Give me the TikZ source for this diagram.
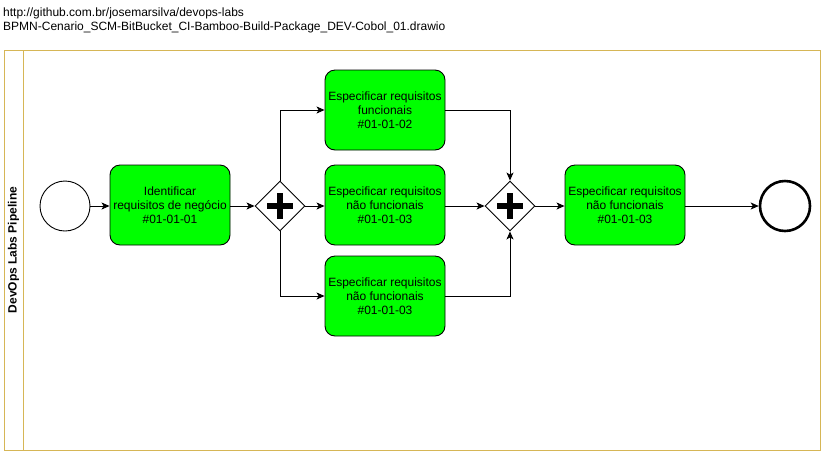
\documentclass[tikz,border=0pt]{standalone}
\usepackage{fontspec}
\setmainfont{Liberation Sans}
\usetikzlibrary{arrows.meta,shapes.geometric}
\definecolor{lanegold}{HTML}{D6B656}
\definecolor{taskgreen}{HTML}{00FF00}
\begin{document}
\begin{tikzpicture}[x=1pt,y=-1pt,
  every node/.style={font=\fontsize{12}{14}\selectfont},
  task/.style={draw=black,fill=taskgreen,rounded corners=10pt,minimum width=120pt,minimum height=80pt,align=center,inner sep=0pt,line width=0.9pt},
  gw/.style={draw=black,fill=white,diamond,minimum width=50pt,minimum height=50pt,inner sep=0pt,line width=0.9pt},
  flow/.style={draw=black,line width=0.9pt,-{Stealth[length=8pt,width=7pt,inset=2pt]}}]
\useasboundingbox (0,0) rectangle (821,451);
% header texts
\node[anchor=west,inner sep=0pt] (t1) at (3,13) {http://github.com.br/josemarsilva/devops-labs};
\node[anchor=west,inner sep=0pt] (t2) at (3,27) {BPMN-Cenario\_SCM-BitBucket\_CI-Bamboo-Build-Package\_DEV-Cobol\_01.drawio};
% pool
\draw[lanegold,line width=1pt] (4,50) rectangle (820,450);
\draw[lanegold,line width=1pt] (23,50) -- (23,450);
\node[rotate=90,font=\fontsize{12}{14}\selectfont\bfseries] (lane) at (13.5,250) {DevOps Labs Pipeline};
% nodes
\node[circle,draw=black,fill=white,minimum size=50pt,inner sep=0pt,line width=0.9pt] (start) at (65,206) {};
\node[task] (a) at (170,205) {Identificar\\requisitos de negócio\\\#01-01-01};
\node[gw] (g1) at (280,206) {};
\node[task] (b) at (385,110) {Especificar requisitos\\funcionais\\\#01-01-02};
\node[task] (c) at (385,205) {Especificar requisitos\\não funcionais\\\#01-01-03};
\node[task] (d) at (385,296) {Especificar requisitos\\não funcionais\\\#01-01-03};
\node[gw] (g2) at (510,206) {};
\node[task] (e) at (625,205) {Especificar requisitos\\não funcionais\\\#01-01-03};
\node[circle,draw=black,fill=white,minimum size=50pt,inner sep=0pt,line width=2.6pt] (end) at (785,206) {};
% plus signs
\foreach \g in {g1,g2}{
  \fill[black] ([xshift=-13pt,yshift=-3pt]\g.center) rectangle ([xshift=13pt,yshift=3pt]\g.center);
  \fill[black] ([xshift=-3pt,yshift=-13pt]\g.center) rectangle ([xshift=3pt,yshift=13pt]\g.center);
}
% flows
\draw[flow] (start.east) -- (a.west |- start.east);
\draw[flow] (a.east |- g1.west) -- (g1.west);
\draw[flow] (g1.north) |- (b.west);
\draw[flow] (g1.east) -- (c.west |- g1.east);
\draw[flow] (g1.south) |- (d.west);
\draw[flow] (b.east) -| (g2.north);
\draw[flow] (c.east |- g2.west) -- (g2.west);
\draw[flow] (d.east) -| (g2.south);
\draw[flow] (g2.east) -- (e.west |- g2.east);
\draw[flow] (e.east |- end.west) -- (end.west);
\end{tikzpicture}
\end{document}
